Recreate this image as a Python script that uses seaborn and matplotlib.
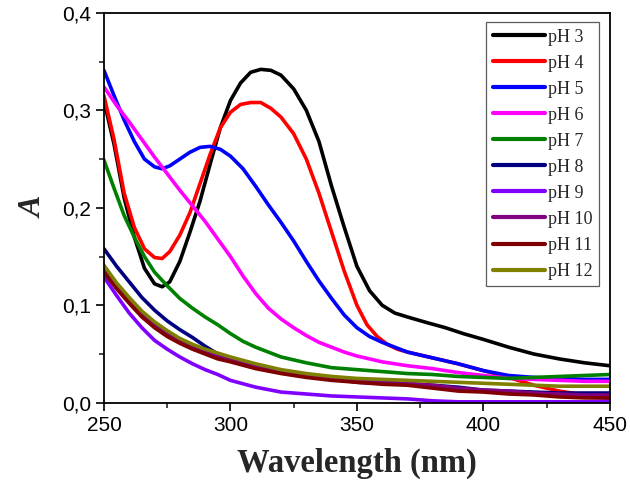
import pandas as pd
import matplotlib
matplotlib.use("Agg")
import matplotlib.pyplot as plt
import seaborn as sns
from matplotlib.ticker import MultipleLocator, FuncFormatter

# absorbance spectra (wavelength nm, absorbance)
wl_ph3 = [250, 254, 258, 262, 266, 270, 273, 276, 280, 284, 288, 292, 296, 300, 304, 308, 312, 316, 320, 325,
          330, 335, 340, 345, 350, 355, 360, 365, 370, 378, 385, 392, 400, 410, 420, 430, 440, 450]
a_ph3 = [0.310, 0.265, 0.210, 0.170, 0.138, 0.122, 0.119, 0.124, 0.145, 0.175, 0.207, 0.245, 0.282, 0.310, 0.328,
         0.339, 0.342, 0.341, 0.336, 0.322, 0.300, 0.268, 0.222, 0.180, 0.140, 0.115, 0.100, 0.092, 0.088, 0.082,
         0.077, 0.071, 0.065, 0.057, 0.050, 0.045, 0.041, 0.038]

wl_ph4 = [250, 254, 258, 262, 266, 270, 273, 276, 280, 284, 288, 292, 296, 300, 304, 308, 312, 316, 320, 325,
          330, 335, 340, 345, 350, 354, 358, 362, 366, 370, 380, 390, 400, 410, 420, 430, 440, 450]
a_ph4 = [0.315, 0.270, 0.215, 0.180, 0.158, 0.149, 0.148, 0.155, 0.172, 0.195, 0.225, 0.255, 0.282, 0.298, 0.306,
         0.308, 0.308, 0.302, 0.293, 0.276, 0.250, 0.215, 0.175, 0.135, 0.100, 0.080, 0.068, 0.060, 0.055, 0.052,
         0.046, 0.040, 0.033, 0.026, 0.018, 0.012, 0.008, 0.007]

wl_ph5 = [250, 254, 258, 262, 266, 270, 273, 276, 280, 284, 288, 292, 296, 300, 305, 310, 315, 320, 325, 330,
          335, 340, 345, 350, 355, 360, 365, 370, 380, 390, 400, 410, 420, 430, 440, 450]
a_ph5 = [0.341, 0.315, 0.290, 0.268, 0.250, 0.242, 0.240, 0.243, 0.250, 0.257, 0.262, 0.263, 0.260, 0.253, 0.240,
         0.222, 0.203, 0.185, 0.166, 0.145, 0.125, 0.107, 0.090, 0.077, 0.068, 0.062, 0.057, 0.052, 0.046, 0.040,
         0.033, 0.028, 0.026, 0.025, 0.024, 0.024]

wl_ph6 = [250, 255, 260, 265, 270, 275, 280, 285, 290, 295, 300, 305, 310, 315, 320, 325, 330, 335, 340, 345,
          350, 360, 370, 380, 390, 400, 410, 420, 430, 440, 450]
a_ph6 = [0.324, 0.305, 0.288, 0.270, 0.252, 0.235, 0.218, 0.202, 0.186, 0.168, 0.150, 0.130, 0.112, 0.097, 0.086,
         0.077, 0.069, 0.062, 0.057, 0.052, 0.048, 0.042, 0.038, 0.035, 0.031, 0.028, 0.025, 0.024, 0.023, 0.022,
         0.022]

wl_ph7 = [250, 254, 258, 262, 266, 270, 275, 280, 285, 290, 295, 300, 305, 310, 315, 320, 330, 340, 350, 360,
          370, 380, 390, 400, 410, 420, 430, 440, 450]
a_ph7 = [0.249, 0.220, 0.192, 0.170, 0.150, 0.134, 0.120, 0.107, 0.097, 0.088, 0.080, 0.071, 0.063, 0.057, 0.052,
         0.047, 0.041, 0.036, 0.034, 0.032, 0.030, 0.029, 0.027, 0.026, 0.025, 0.026, 0.027, 0.028, 0.029]

wl_tail = [250, 255, 260, 265, 270, 275, 280, 285, 290, 295, 300, 310, 320, 330, 340, 350, 360, 370, 380, 390,
           400, 410, 420, 430, 440, 450]
a_ph8 = [0.158, 0.140, 0.124, 0.108, 0.095, 0.084, 0.075, 0.067, 0.058, 0.050, 0.045, 0.036, 0.031, 0.027, 0.025,
         0.021, 0.020, 0.019, 0.018, 0.016, 0.013, 0.012, 0.011, 0.010, 0.010, 0.010]
a_ph9 = [0.129, 0.110, 0.092, 0.077, 0.064, 0.055, 0.047, 0.040, 0.034, 0.029, 0.023, 0.016, 0.011, 0.009, 0.007,
         0.006, 0.005, 0.004, 0.002, 0.001, 0.001, 0.001, 0.001, 0.001, 0.001, 0.002]
a_ph10 = [0.137, 0.120, 0.105, 0.091, 0.080, 0.071, 0.064, 0.058, 0.053, 0.048, 0.044, 0.037, 0.032, 0.028, 0.025,
          0.022, 0.021, 0.020, 0.018, 0.015, 0.013, 0.012, 0.010, 0.009, 0.008, 0.008]
a_ph11 = [0.134, 0.117, 0.102, 0.088, 0.077, 0.068, 0.061, 0.055, 0.050, 0.045, 0.042, 0.035, 0.030, 0.026, 0.023,
          0.021, 0.019, 0.018, 0.015, 0.012, 0.011, 0.009, 0.008, 0.006, 0.005, 0.005]
a_ph12 = [0.141, 0.123, 0.108, 0.094, 0.083, 0.074, 0.066, 0.060, 0.055, 0.051, 0.047, 0.040, 0.034, 0.030, 0.027,
          0.025, 0.024, 0.023, 0.022, 0.021, 0.020, 0.019, 0.018, 0.017, 0.017, 0.017]

labels = ["pH 3", "pH 4", "pH 5", "pH 6", "pH 7", "pH 8", "pH 9", "pH 10", "pH 11", "pH 12"]
colors = ["#000000", "#ff0000", "#0000ff", "#ff00ff", "#008000", "#000080", "#8000ff", "#800080", "#800000", "#808000"]
series = [(wl_ph3, a_ph3), (wl_ph4, a_ph4), (wl_ph5, a_ph5), (wl_ph6, a_ph6), (wl_ph7, a_ph7),
          (wl_tail, a_ph8), (wl_tail, a_ph9), (wl_tail, a_ph10), (wl_tail, a_ph11), (wl_tail, a_ph12)]

# long-form table for seaborn
rows = []
for lab, (xs, ys) in zip(labels, series):
    for x, y in zip(xs, ys):
        rows.append({"Wavelength": x, "A": y, "pH": lab})
df = pd.DataFrame(rows)

sns.set_style("white")
plt.rcParams['font.family'] = ['Liberation Sans', 'DejaVu Sans']
plt.rcParams['lines.solid_joinstyle'] = 'round'

fig, ax = plt.subplots(figsize=(6.3, 4.93), dpi=100)
fig.subplots_adjust(left=0.165, right=0.968, top=0.974, bottom=0.183)

sns.lineplot(data=df, x="Wavelength", y="A", hue="pH", hue_order=labels,
             palette=dict(zip(labels, colors)), linewidth=2.6, sort=False, ax=ax)

ax.set_xlim(250, 450)
ax.set_ylim(0, 0.4)
ax.xaxis.set_major_locator(MultipleLocator(50))
ax.xaxis.set_minor_locator(MultipleLocator(25))
ax.yaxis.set_major_locator(MultipleLocator(0.1))
ax.yaxis.set_minor_locator(MultipleLocator(0.05))
ax.yaxis.set_major_formatter(FuncFormatter(lambda v, p: f"{v:.1f}".replace(".", ",")))
ax.tick_params(axis="both", which="major", direction="out", length=6, width=1.2,
               labelsize=15, bottom=True, left=True, top=False, right=False, colors="black")
ax.tick_params(axis="both", which="minor", direction="out", length=3.5, width=1.2,
               bottom=True, left=True, top=False, right=False)
for sp in ax.spines.values():
    sp.set_color("black")
    sp.set_linewidth(1.3)

ax.set_xlabel("Wavelength (nm)", family=["Liberation Serif"], fontweight="bold", fontsize=23.5, labelpad=9)
ax.set_ylabel("A", family=["Liberation Serif"], fontweight="bold", style="italic", fontsize=23, labelpad=9)

leg = ax.legend(loc="upper right", bbox_to_anchor=(0.985, 0.985), frameon=True, fancybox=False,
                prop={"family": "Liberation Serif", "size": 13}, handlelength=2.9, handletextpad=0.15,
                labelspacing=0.5, borderpad=0.35, borderaxespad=0.2)
leg.get_frame().set_edgecolor("#333333")
leg.get_frame().set_linewidth(0.9)
for line in leg.get_lines():
    line.set_linewidth(3)

fig.savefig("out.png", dpi=100)
